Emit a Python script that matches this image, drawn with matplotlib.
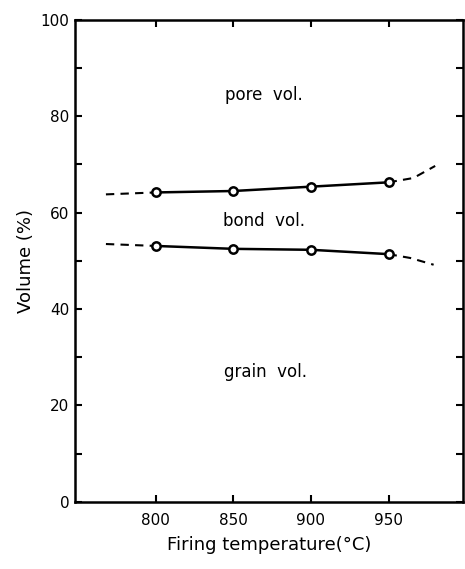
import numpy as np
import matplotlib
matplotlib.use("Agg")
import matplotlib.pyplot as plt

# measured points (solid part)
temps = [800, 850, 900, 950]
upper = [64.2, 64.5, 65.4, 66.3]   # bond / pore boundary
lower = [53.1, 52.5, 52.3, 51.4]   # grain / bond boundary

# dashed extrapolations
up_left_t = [768, 800]
up_left_v = [63.8, 64.2]
up_right_t = [950, 966, 980]
up_right_v = [66.3, 67.2, 69.7]
lo_left_t = [768, 800]
lo_left_v = [53.5, 53.1]
lo_right_t = [950, 964, 979]
lo_right_v = [51.4, 50.6, 49.2]

region_labels = ["pore  vol.", "bond  vol.", "grain  vol."]
region_pos = [(870, 84.5), (870, 58.2), (871, 27.0)]

plt.rcParams['font.family'] = ['DejaVu Sans']

fig = plt.figure(figsize=(4.65, 5.69), dpi=100)
ax = fig.add_axes([0.161, 0.118, 0.835, 0.847])

for t, v in [(up_left_t, up_left_v), (up_right_t, up_right_v),
             (lo_left_t, lo_left_v), (lo_right_t, lo_right_v)]:
    ax.plot(t, v, color='black', lw=1.5, ls=(0, (4, 3)))

for v in [upper, lower]:
    ax.plot(temps, v, color='black', lw=1.8, marker='o', ms=6,
            mfc='white', mec='black', mew=1.8)

for s, (x, y) in zip(region_labels, region_pos):
    ax.text(x, y, s, ha='center', va='center', fontsize=12)

ax.set_xlim(748, 998)
ax.set_ylim(0, 100)
ax.set_xticks(temps)
ax.set_yticks([0, 20, 40, 60, 80, 100])
ax.set_yticks(np.arange(10, 100, 20), minor=True)
ax.tick_params(direction='in', length=5, width=1.5, labelsize=11,
               top=True, right=True, pad=8)
ax.tick_params(which='minor', direction='in', length=5, width=1.5,
               right=True)
ax.tick_params(axis='y', pad=4)
for sp in ax.spines.values():
    sp.set_linewidth(1.8)

ax.set_xlabel('Firing temperature(°C)', fontsize=13, labelpad=6)
ax.set_ylabel('Volume (%)', fontsize=13, labelpad=4)

fig.savefig('out.png', dpi=100)
